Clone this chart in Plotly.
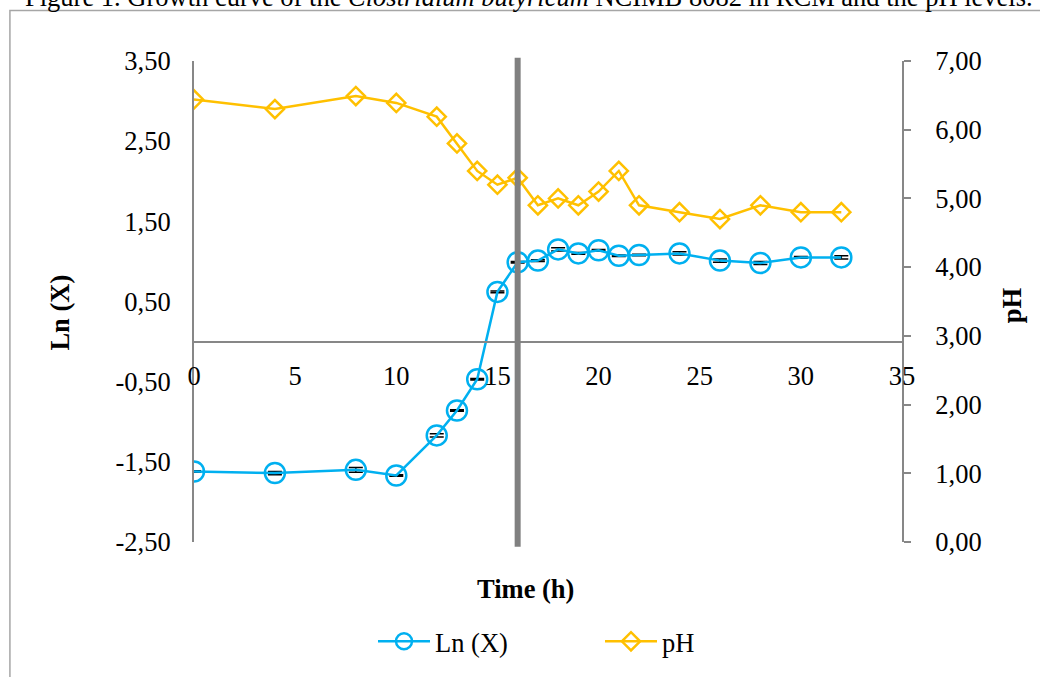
import plotly.graph_objects as go

# ---- data ----
time_h = [0, 4, 8, 10, 12, 13, 14, 15, 16, 17, 18, 19, 20, 21, 22, 24, 26, 28, 30, 32]
ln_x = [-1.62, -1.64, -1.60, -1.67, -1.17, -0.86, -0.47, 0.62, 0.99, 1.01,
        1.15, 1.10, 1.14, 1.07, 1.08, 1.10, 1.01, 0.98, 1.05, 1.05]
ln_x_err = [0.01, 0.02, 0.03, 0.01, 0.02, 0.01, 0.01, 0.01, 0.01, 0.01,
            0.02, 0.01, 0.01, 0.01, 0.01, 0.02, 0.02, 0.02, 0.01, 0.02]
ph = [6.44, 6.30, 6.49, 6.39, 6.19, 5.80, 5.40, 5.20, 5.30, 4.90,
      5.00, 4.90, 5.10, 5.40, 4.90, 4.80, 4.70, 4.90, 4.80, 4.80]
marker_time = 16

left_tick_vals = [-2.5, -1.5, -0.5, 0.5, 1.5, 2.5, 3.5]
left_tick_text = ["-2,50", "-1,50", "-0,50", "0,50", "1,50", "2,50", "3,50"]

title_text = ("Figure 1. Growth curve of the <i>Clostridium butyricum</i> "
              "NCIMB 8082 in RCM and the pH levels.")

FONT = "Liberation Serif, Times New Roman, serif"
FS = 26.5
GRAY = "#878787"
BLUE = "#00B0F0"
GOLD = "#FFC000"

fig = go.Figure()
fig.add_trace(go.Scatter(
    x=time_h, y=ln_x, name="Ln (X)", mode="lines+markers",
    line=dict(color=BLUE, width=2.5),
    marker=dict(symbol="circle-open", size=20, color=BLUE, line=dict(width=2.5, color=BLUE)),
    error_y=dict(type="data", array=ln_x_err, visible=True, color="black", thickness=1.5, width=7),
    yaxis="y"))
fig.add_trace(go.Scatter(
    x=time_h, y=ph, name="pH", mode="lines+markers",
    line=dict(color=GOLD, width=2.5),
    marker=dict(symbol="diamond-open", size=14, color=GOLD, line=dict(width=2.5, color=GOLD)),
    yaxis="y2"))

fig.add_shape(type="line", xref="x", yref="paper", x0=marker_time, x1=marker_time,
              y0=-0.01, y1=1.007, line=dict(color="#808080", width=6), layer="above")
# outer frame
fig.add_shape(type="rect", xref="paper", yref="paper", x0=-0.26, x1=1.25, y0=-0.35, y1=1.105,
              line=dict(color="#A6A6A6", width=1.5), layer="below")

fig.update_layout(
    width=1040, height=677,
    margin=dict(l=194, r=138, t=61, b=132),
    paper_bgcolor="white", plot_bgcolor="white",
    separators=", ",
    font=dict(family=FONT, size=FS, color="black"),
    showlegend=True,
    legend=dict(orientation="h", x=(373 - 194) / 708, xanchor="left", y=-0.207, yanchor="middle",
                font=dict(family=FONT, size=FS), entrywidth=160, entrywidthmode="pixels",
                itemwidth=52),
    xaxis=dict(range=[0, 35], dtick=5, tick0=0, showgrid=False, zeroline=False,
               showline=True, linecolor=GRAY, linewidth=2, ticks="",
               anchor="free", position=2.5 / 6, ticklabelstandoff=11),
    yaxis=dict(range=[-2.5, 3.5], tickvals=left_tick_vals, ticktext=left_tick_text,
               showgrid=False, zeroline=False, showline=True, linecolor=GRAY, linewidth=2,
               ticks="", ticklabelstandoff=16),
    yaxis2=dict(range=[0, 7], dtick=1, tick0=0, tickformat=".2f", overlaying="y", side="right",
                showgrid=False, zeroline=False, showline=True, linecolor=GRAY, linewidth=2,
                ticks="outside", ticklen=7, tickcolor=GRAY, tickwidth=2, ticklabelstandoff=19),
    annotations=[
        dict(text="<b>Ln (X)</b>", xref="paper", yref="paper", x=(60 - 194) / 708, y=0.477,
             xanchor="center", yanchor="middle",
             textangle=-90, showarrow=False, font=dict(family=FONT, size=FS)),
        dict(text="<b>pH</b>", xref="paper", yref="paper", x=(1012 - 194) / 708, y=0.492,
             xanchor="center", yanchor="middle",
             textangle=-90, showarrow=False, font=dict(family=FONT, size=FS)),
        dict(text="<b>Time (h)</b>", xref="paper", yref="paper", x=(525 - 194) / 708,
             y=(545 - 592) / 484, xanchor="center", yanchor="middle",
             showarrow=False, font=dict(family=FONT, size=FS)),
        dict(text=title_text, xref="paper", yref="paper", x=(23 - 194) / 708, y=(545 - 14) / 484,
             xanchor="left", yanchor="bottom", showarrow=False, font=dict(family=FONT, size=FS)),
    ],
)

fig.write_html("out.html", config={"displayModeBar": False},
               post_script="document.body.style.margin='0px';")
